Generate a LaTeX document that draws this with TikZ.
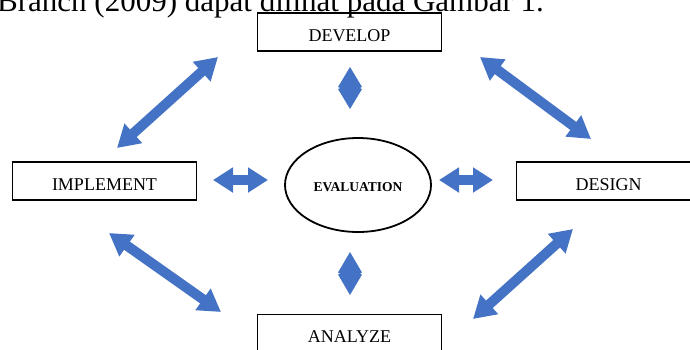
\documentclass[tikz,border=0pt]{standalone}
\usepackage{fontspec}
\setmainfont{Liberation Serif}
\usetikzlibrary{arrows.meta,shapes.geometric}
\definecolor{arrowblue}{HTML}{4472C4}

\begin{document}
\begin{tikzpicture}[x=1pt, y=-1pt,
	stage/.style={draw, line width=1.8pt, minimum width=184pt, minimum height=38pt, inner sep=0pt,
		text height=18pt, text depth=0pt, font=\fontsize{18}{20}\selectfont},
	dbl/.style={arrowblue, line width=10pt, {Triangle[length=22pt,width=25pt]}-{Triangle[length=22pt,width=25pt]}},
	short dbl/.style={arrowblue, line width=10pt, {Triangle[length=20pt,width=24pt]}-{Triangle[length=20pt,width=24pt]}}]
	\useasboundingbox (0,0) rectangle (690,349);
	% running text above the figure (cut by the page)
	\node[anchor=base west, inner sep=0pt, font=\fontsize{31}{36}\selectfont] (caption) at (-3,11.5) {Branch (2009) dapat dilihat pada Gambar 1.};
	% stages
	\node[stage] (develop) at (349.5,32) {DEVELOP};
	\node[stage] (implement) at (104.5,181) {IMPLEMENT};
	\node[stage] (design) at (608.5,181) {DESIGN};
	\node[stage] (analyze) at (349.5,333.5) {ANALYZE};
	\node[ellipse, draw, line width=1.8pt, minimum width=146pt, minimum height=94pt, inner sep=0pt,
		text height=13.5pt, text depth=0pt, font=\fontsize{13.5}{15}\selectfont\bfseries] (evaluation) at (358,185) {EVALUATION};
	% arrow ends
	\coordinate (tl1) at (218,57);  \coordinate (tl2) at (117,148);
	\coordinate (tr1) at (480,57);  \coordinate (tr2) at (591,139);
	\coordinate (br1) at (573,229); \coordinate (br2) at (473,319);
	\coordinate (bl1) at (109,233); \coordinate (bl2) at (221,312);
	\coordinate (vt1) at (350,67);  \coordinate (vt2) at (350,109);
	\coordinate (vb1) at (350,252); \coordinate (vb2) at (350,295);
	\coordinate (hl1) at (213,180); \coordinate (hl2) at (268,180);
	\coordinate (hr1) at (439,180); \coordinate (hr2) at (493,180);
	% arrows
	\draw[dbl] (tl1) -- (tl2);
	\draw[dbl] (tr1) -- (tr2);
	\draw[dbl] (br1) -- (br2);
	\draw[dbl] (bl1) -- (bl2);
	\draw[short dbl] (hl1) -- (hl2);
	\draw[short dbl] (hr1) -- (hr2);
	% vertical ones: two heads back to back
	\foreach \a/\b/\h in {vt1/vt2/20, vb1/vb2/20.5}
		\fill[arrowblue] (\a) -- ++(12,\h) -- ++(-1.5,0.5) -- ++(0,1) -- ++(1.5,0.5) -- (\b)
			-- ++(-12,-\h) -- ++(1.5,-0.5) -- ++(0,-1) -- ++(-1.5,-0.5) -- cycle;
\end{tikzpicture}
\end{document}
